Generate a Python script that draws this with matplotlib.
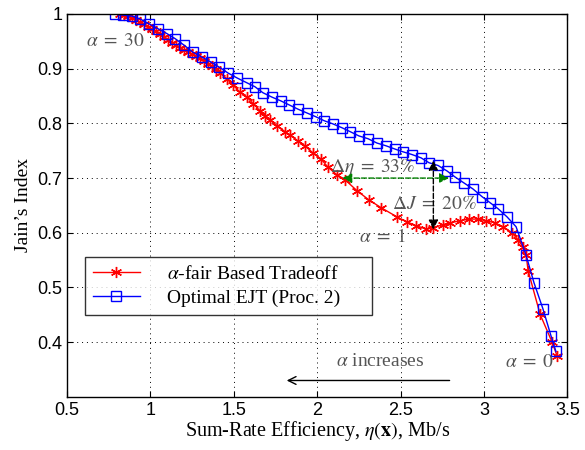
import matplotlib
matplotlib.use("Agg")
import matplotlib.pyplot as plt

plt.rcParams['font.family'] = ['Liberation Serif', 'DejaVu Serif']
plt.rcParams['mathtext.fontset'] = 'stix'

# alpha-fair based tradeoff (red stars)
fair_eta = [0.817, 0.841, 0.865, 0.889, 0.913, 0.937, 0.961, 0.985, 1.009, 1.033,
            1.057, 1.081, 1.105, 1.129, 1.153, 1.177, 1.201, 1.225, 1.249, 1.273,
            1.297, 1.321, 1.345, 1.369, 1.393, 1.417, 1.459, 1.495, 1.537, 1.579,
            1.615, 1.657, 1.686, 1.716, 1.758, 1.806, 1.836, 1.884, 1.926, 1.974,
            2.022, 2.064, 2.118, 2.166, 2.238, 2.310, 2.382, 2.478, 2.538, 2.592,
            2.652, 2.694, 2.754, 2.796, 2.856, 2.910, 2.964, 3.012, 3.066, 3.114,
            3.168, 3.204, 3.234, 3.252, 3.264, 3.336, 3.408, 3.438]
fair_J = [1.000, 0.998, 0.996, 0.993, 0.989, 0.985, 0.982, 0.976, 0.972, 0.969,
          0.963, 0.958, 0.952, 0.947, 0.943, 0.938, 0.934, 0.930, 0.927, 0.923,
          0.920, 0.914, 0.909, 0.905, 0.900, 0.892, 0.881, 0.870, 0.857, 0.848,
          0.836, 0.823, 0.814, 0.807, 0.796, 0.785, 0.779, 0.768, 0.759, 0.746,
          0.735, 0.720, 0.706, 0.697, 0.677, 0.660, 0.646, 0.629, 0.620, 0.613,
          0.607, 0.609, 0.615, 0.618, 0.622, 0.625, 0.625, 0.622, 0.618, 0.611,
          0.600, 0.587, 0.574, 0.560, 0.531, 0.451, 0.400, 0.375]

# optimal EJT (blue squares)
ejt_eta = [0.787, 0.835, 0.889, 0.937, 0.991, 1.045, 1.099, 1.147, 1.201, 1.255,
           1.309, 1.363, 1.411, 1.465, 1.519, 1.579, 1.626, 1.674, 1.728, 1.782,
           1.830, 1.884, 1.938, 1.992, 2.040, 2.094, 2.148, 2.196, 2.250, 2.304,
           2.358, 2.412, 2.466, 2.514, 2.568, 2.622, 2.670, 2.724, 2.778, 2.826,
           2.880, 2.934, 2.988, 3.036, 3.084, 3.138, 3.192, 3.251, 3.299, 3.353,
           3.401, 3.431]
ejt_J = [1.000, 0.998, 0.996, 0.991, 0.982, 0.973, 0.964, 0.955, 0.943, 0.930,
         0.921, 0.912, 0.903, 0.892, 0.883, 0.874, 0.867, 0.856, 0.848, 0.841,
         0.834, 0.826, 0.819, 0.812, 0.805, 0.799, 0.792, 0.785, 0.777, 0.772,
         0.764, 0.759, 0.753, 0.748, 0.743, 0.737, 0.728, 0.723, 0.713, 0.702,
         0.691, 0.680, 0.666, 0.655, 0.644, 0.629, 0.611, 0.560, 0.509, 0.461,
         0.412, 0.383]

xticks = [0.5, 1, 1.5, 2, 2.5, 3, 3.5]
yticks = [0.4, 0.5, 0.6, 0.7, 0.8, 0.9, 1]

fig = plt.figure(figsize=(5.85, 4.5), dpi=100)
ax = fig.add_axes([0.1147, 0.118, 0.8553, 0.851])

# MATLAB-like asterisk marker
ax.plot(fair_eta, fair_J, color='red', marker=(6, 2, 0), markersize=8, mew=1, lw=1,
        label=r'$\alpha$-fair Based Tradeoff')
ax.plot(ejt_eta, ejt_J, color='blue', marker='s', markersize=6.5, mfc='none',
        mew=1, lw=1, label='Optimal EJT (Proc. 2)')

ax.set_xlim(0.5, 3.5)
ax.set_ylim(0.3, 1.0)
ax.set_xticks(xticks)
ax.set_yticks(yticks)
ax.set_xticklabels(['0.5', '1', '1.5', '2', '2.5', '3', '3.5'], family='Liberation Sans')
ax.set_yticklabels(['0.4', '0.5', '0.6', '0.7', '0.8', '0.9', '1'], family='Liberation Sans')
ax.tick_params(direction='in', top=True, right=True, labelsize=13, length=4)
ax.grid(True, linestyle=(0, (1, 4)), color='black', lw=0.7)
for s in ax.spines.values():
    s.set_linewidth(1)

ax.set_xlabel(r'Sum-Rate Efficiency, $\eta(\mathbf{x})$, Mb/s', fontsize=14.5, labelpad=0)
ax.set_ylabel("Jain\u2019s Index", fontsize=14, labelpad=4)

gray = '#555555'
fs = 14
ax.text(0.79, 0.949, r'$\alpha \;=\; 30$', fontsize=fs, color=gray, ha='center', va='center')
ax.text(2.39, 0.593, r'$\alpha \;=\; 1$', fontsize=fs, color=gray, ha='center', va='center')
ax.text(3.27, 0.362, r'$\alpha \;=\; 0$', fontsize=fs, color=gray, ha='center', va='center')
ax.text(2.33, 0.72, r'$\Delta\eta \;=\; 33\%$', fontsize=fs, color=gray, ha='center', va='center')
ax.text(2.70, 0.651, r'$\Delta J \;=\; 20\%$', fontsize=fs, color=gray, ha='center', va='center')
ax.text(2.376, 0.364, r'$\alpha$ increases', fontsize=fs, color=gray, ha='center', va='center')

# arrows
ax.annotate('', xy=(1.80, 0.330), xytext=(2.81, 0.330),
            arrowprops=dict(arrowstyle='->', color='black', lw=1, mutation_scale=14))
ax.annotate('', xy=(2.15, 0.70), xytext=(2.79, 0.70),
            arrowprops=dict(arrowstyle='<|-|>', color='green', lw=1, ls='--',
                            mutation_scale=14, shrinkA=0, shrinkB=0))
ax.annotate('', xy=(2.696, 0.732), xytext=(2.696, 0.606),
            arrowprops=dict(arrowstyle='<|-|>', color='black', lw=1, ls='--',
                            mutation_scale=14, shrinkA=0, shrinkB=0))

leg = ax.legend(loc='lower left', bbox_to_anchor=(0.036, 0.214, 0.574, 0.157),
                mode='expand', fontsize=14, frameon=True, fancybox=False,
                edgecolor='black', handlelength=2.4, handletextpad=1.4,
                borderpad=0.4, labelspacing=0.35, borderaxespad=0)
leg.get_frame().set_linewidth(1)

fig.savefig('out.png', dpi=100)
